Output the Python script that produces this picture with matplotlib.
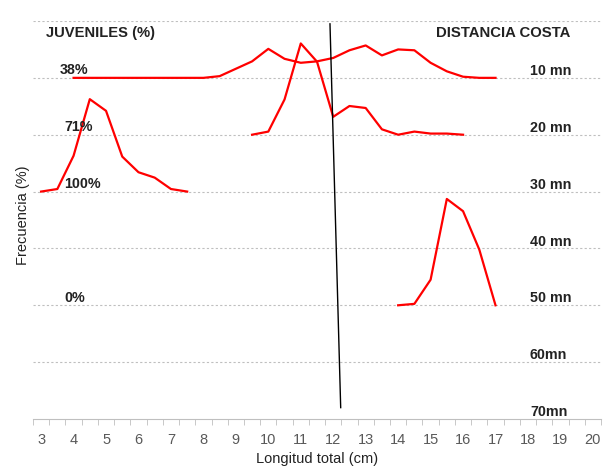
import numpy as np
import matplotlib
matplotlib.use("Agg")
import matplotlib.pyplot as plt

plt.rcParams['font.family'] = ['Liberation Sans', 'DejaVu Sans']

# frequencies (%) by total length (cm), one series per distance from coast
talla_10 = [4, 4.5, 5, 5.5, 6, 6.5, 7, 7.5, 8, 8.5, 9, 9.5, 10, 10.5, 11, 11.5,
            12, 12.5, 13, 13.5, 14, 14.5, 15, 15.5, 16, 16.5, 17]
frec_10 = [0, 0, 0, 0, 0, 0, 0, 0, 0, 0.6, 3.2, 5.8, 10.2, 6.7, 5.3, 5.8,
           7.0, 9.7, 11.4, 7.9, 10.0, 9.7, 5.3, 2.3, 0.4, 0, 0]
talla_20 = [9.5, 10, 10.5, 11, 11.5, 12, 12.5, 13, 13.5, 14, 14.5, 15, 15.5, 16]
frec_20 = [0, 1.1, 12.4, 32.1, 25.7, 6.3, 10.1, 9.4, 1.9, 0, 1.1, 0.4, 0.4, 0]
talla_30 = [3, 3.5, 4, 4.5, 5, 5.5, 6, 6.5, 7, 7.5]
frec_30 = [0, 0.9, 12.6, 32.5, 28.4, 12.3, 6.8, 4.9, 0.9, 0]
talla_50 = [14, 14.5, 15, 15.5, 16, 16.5, 17]
frec_50 = [0, 0.5, 9.0, 37.4, 33.1, 19.6, 0]

distancias = ['10 mn', '20 mn', '30 mn', '40 mn', '50 mn', '60mn', '70mn']
juveniles = {'10 mn': '38%', '20 mn': '71%', '30 mn': '100%', '50 mn': '0%'}
xticks = list(range(3, 21))

escala = 20.0  # % per grid step
base = {d: 6 - i for i, d in enumerate(distancias)}

fig = plt.figure(figsize=(6.08, 4.66), dpi=100)
ax = fig.add_axes([33 / 608, 1 - 419 / 466, 568 / 608, 398 / 466])

ax.set_xlim(2.75, 20.25)
ax.set_ylim(0, 7)

for y in range(1, 8):
    ax.axhline(y, color='#bfbfbf', lw=0.8, ls=(0, (2, 2)), zorder=1)

series = [('10 mn', talla_10, frec_10), ('20 mn', talla_20, frec_20),
          ('30 mn', talla_30, frec_30), ('50 mn', talla_50, frec_50)]
for d, t, f in series:
    ax.plot(t, base[d] + np.array(f) / escala, color='#ff0000', lw=1.6, zorder=3)

# talla media de madurez
ax.plot([11.9, 12.23], [6.95, 0.2], color='black', lw=1, zorder=4)

for d in distancias:
    ax.text(18.06, base[d] + 0.12, d, fontsize=10.3, fontweight='bold',
            va='center', ha='left', color='#222222', zorder=5)
for d, j in juveniles.items():
    xj = 3.58 if d == '10 mn' else 3.72
    ax.text(xj, base[d] + 0.13, j, fontsize=10.3, fontweight='bold',
            va='center', ha='left', color='#222222', zorder=5)

ax.text(3.15, 6.79, 'JUVENILES (%)', fontsize=10.6, fontweight='bold',
        va='center', ha='left', color='#222222')
ax.text(15.17, 6.79, 'DISTANCIA COSTA', fontsize=10.7, fontweight='bold',
        va='center', ha='left', color='#222222')

ax.set_xticks(xticks)
ax.set_xticks(np.arange(2.75, 20.3, 0.5), minor=True)
ax.tick_params(axis='x', which='major', length=0, pad=10, labelsize=10.5,
               labelcolor='#595959')
ax.tick_params(axis='x', which='minor', length=4, color='#bfbfbf', direction='out')
ax.set_yticks([])
for s in ['left', 'right', 'top']:
    ax.spines[s].set_visible(False)
ax.spines['bottom'].set_color('#bfbfbf')

ax.set_xlabel('Longitud total (cm)', fontsize=10.5, color='#222222', labelpad=4)
fig.text(23 / 608, 1 - 215 / 466, 'Frecuencia (%)', rotation=90, fontsize=10.5,
         color='#222222', ha='center', va='center')

fig.savefig('out.png', dpi=100)
